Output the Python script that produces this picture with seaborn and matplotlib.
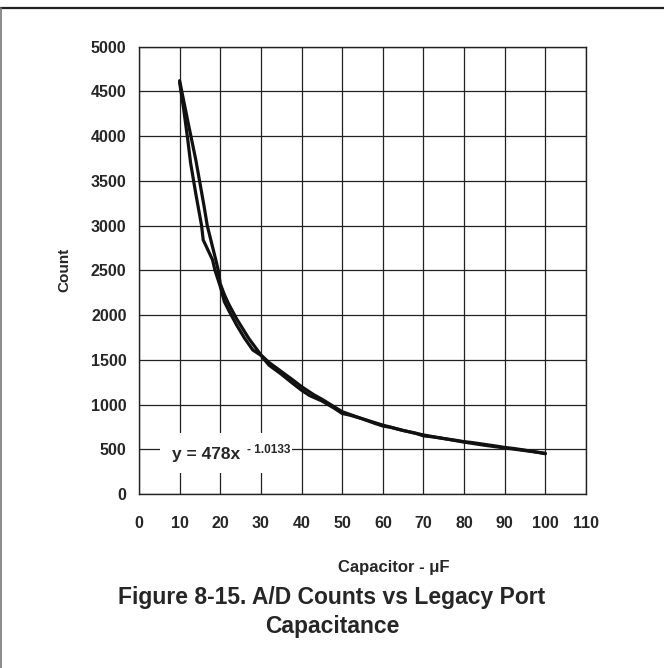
"""A/D counts vs legacy port capacitance (Figure 8-15)."""

import matplotlib.pyplot as plt
import matplotlib.patches as mpatches
from matplotlib.lines import Line2D
import pandas as pd
import seaborn as sns

# Curva medida (con el quiebre cerca de 16 y 22 uF)
measured_x = [10, 11, 12, 12.7, 14, 15.4, 15.8, 18.1, 18.7, 20, 21, 22, 24, 26,
              28, 30, 32, 35, 38, 40, 42, 45, 48, 50, 52, 55, 58, 60, 62, 65,
              68, 70, 72, 75, 78, 80, 82, 85, 88, 90, 92, 95, 97, 100]
measured_y = [4600, 4300, 3960, 3700, 3350, 3000, 2840, 2617, 2500, 2320,
              2150, 2060, 1890, 1740, 1610, 1550, 1440, 1340, 1230, 1160, 1100,
              1040, 960, 900, 880, 840, 790, 760, 745, 710, 680, 650, 640, 620,
              600, 585, 575, 555, 535, 520, 510, 490, 475, 450]

# Curva de ajuste (suave)
fit_x = [10, 12, 14, 16, 16.8, 18, 18.9, 19.5, 20, 21, 22, 24, 27, 30, 32, 35,
         38, 40, 43, 45, 50, 55, 60, 65, 70, 75, 80, 85, 90, 95, 100]
fit_y = [4620, 4170, 3730, 3220, 3000, 2780, 2617, 2500, 2350, 2230, 2130,
         1960, 1740, 1555, 1470, 1370, 1270, 1200, 1110, 1060, 920, 840, 770,
         710, 660, 620, 580, 545, 515, 485, 455]

x_ticks = list(range(0, 111, 10))
y_ticks = list(range(0, 5001, 500))

equation = "y = 478x"
exponent = "- 1.0133"
x_label = "Capacitor - \u03bcF"
y_label = "Count"
title = "Figure 8-15. A/D Counts vs Legacy Port\nCapacitance"

sns.set_theme(style="whitegrid")
plt.rcParams.update({
    "font.family": ["Liberation Sans", "DejaVu Sans"],
    "font.weight": "bold",
    "axes.edgecolor": "#222222",
    "grid.color": "#222222",
    "grid.linewidth": 0.9,
})

fig = plt.figure(figsize=(6.64, 6.68), dpi=100)
ax = fig.add_axes([139 / 664, 1 - 494 / 668, 447 / 664, 447.3 / 668])

df_meas = pd.DataFrame({"x": measured_x, "y": measured_y})
df_fit = pd.DataFrame({"x": fit_x, "y": fit_y})
sns.lineplot(data=df_meas, x="x", y="y", color="#111111", linewidth=2.3,
             estimator=None, ax=ax, zorder=4)
sns.lineplot(data=df_fit, x="x", y="y", color="#111111", linewidth=2.3,
             estimator=None, ax=ax, zorder=4)

ax.set_xlim(0, 110)
ax.set_ylim(0, 5000)
ax.set_xticks(x_ticks)
ax.set_yticks(y_ticks)
ax.tick_params(axis="x", length=0, pad=16, labelsize=11.5)
ax.tick_params(axis="y", length=0, pad=9, labelsize=11.5)
for lbl in ax.get_xticklabels() + ax.get_yticklabels():
    lbl.set_fontweight("bold")
for sp in ax.spines.values():
    sp.set_linewidth(1.0)
    sp.set_color("#222222")

ax.set_xlabel(x_label, fontsize=12, fontweight="bold")
ax.set_ylabel(y_label, fontsize=11, fontweight="bold")
ax.xaxis.set_label_coords(0.570, -0.148)
ax.yaxis.set_label_coords(-0.152, 0.50)

# Recuadro blanco detrás de la ecuación
ax.add_patch(mpatches.Rectangle((5.2, 235), 32.4, 447, facecolor="white",
                                edgecolor="none", zorder=2.5))
ax.text(8.1, 440, equation, fontsize=12.5, fontweight="bold", ha="left",
        va="center", zorder=3)
ax.text(26.6, 495, exponent, fontsize=8.5, fontweight="bold", ha="left",
        va="center", zorder=3)

fig.text(0.5, 1 - 612 / 668, title, ha="center", va="center", fontsize=16.5,
         fontweight="bold", linespacing=1.3)

# Marco de la figura (línea superior e izquierda)
fig.add_artist(Line2D([0, 1], [1 - 7.5 / 668, 1 - 7.5 / 668],
                      transform=fig.transFigure, color="#222222", linewidth=1.6))
fig.add_artist(Line2D([0.001, 0.001], [0, 1 - 7.5 / 668],
                      transform=fig.transFigure, color="#777777", linewidth=1.2))

fig.savefig("out.png", dpi=100)
